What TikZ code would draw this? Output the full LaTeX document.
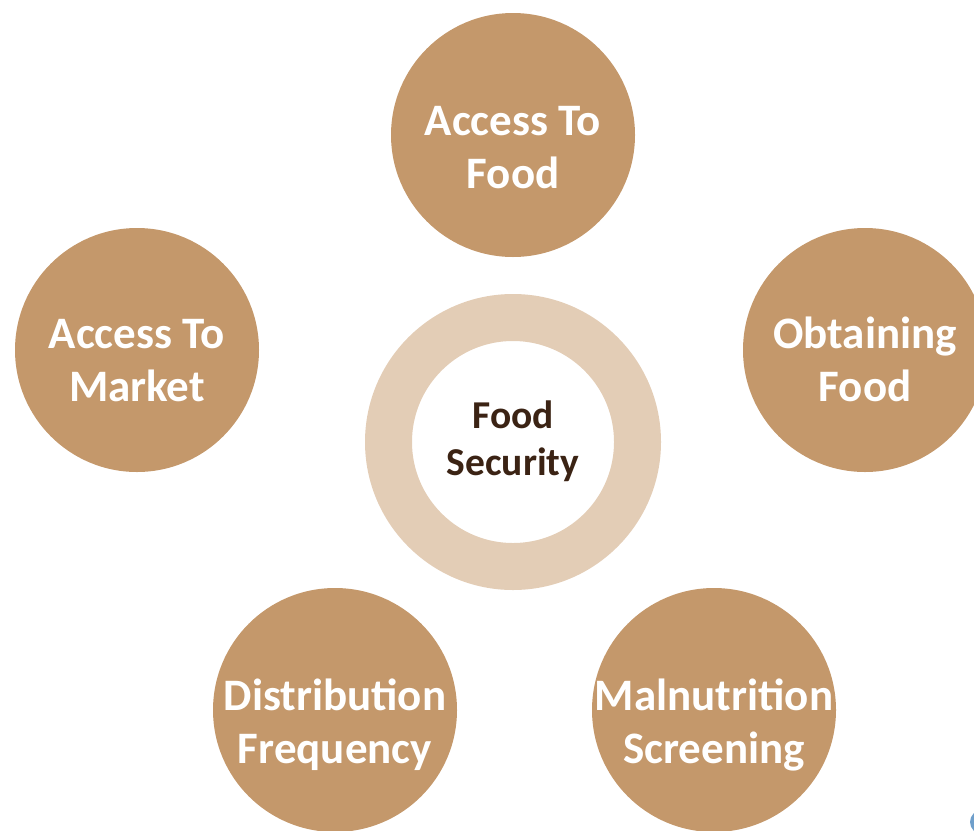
\documentclass[tikz,border=0pt]{standalone}
\usepackage{fontspec}
\setmainfont{Carlito}
\definecolor{bubblebrown}{HTML}{C4986B}
\definecolor{ringbeige}{HTML}{E3CDB6}
\definecolor{darktext}{HTML}{3B2314}
\definecolor{dotblue}{HTML}{6F9FCB}
\tikzset{
	bubble/.style={circle,fill=bubblebrown,minimum size=244pt,inner sep=0pt},
	bubbletext/.style={anchor=base,align=center,text=white,inner sep=0pt,yshift=-53pt,font=\bfseries\fontsize{45}{53}\selectfont},
}
\begin{document}
\begin{tikzpicture}[x=1pt,y=-1pt]
			\useasboundingbox (0,0) rectangle (974,830);
			\node[circle,draw=ringbeige,line width=47pt,minimum size=249pt,inner sep=0pt] (ring) at (513,442) {};
			\node[anchor=base,align=center,inner sep=0pt,text=darktext,font=\bfseries\fontsize{39.5}{47}\selectfont] (ringtxt) at ([yshift=-33pt]ring.center) {Food\\Security};

			\node[bubble] (food) at (513,135) {};
			\node[bubbletext] (foodtxt) at (food.center) {Access To\\Food};
			\node[bubble] (market) at (137,350) {};
			\node[bubbletext] (markettxt) at ([yshift=2pt]market.center) {Access To\\Market};
			\node[bubble] (obtain) at (865,350) {};
			\node[bubbletext] (obtaintxt) at ([yshift=2pt]obtain.center) {Obtaining\\Food};
			\node[bubble] (distrib) at (335,710) {};
			\node[bubbletext] (distribtxt) at (distrib.center) {Distribution\\Frequency};
			\node[bubble] (screen) at (714,710) {};
			\node[bubbletext] (screentxt) at (screen.center) {Malnutrition\\Screening};

			%\draw (0,0) rectangle (974,830);
			\fill[dotblue] (982,822) circle (12);
		\end{tikzpicture}
\end{document}
